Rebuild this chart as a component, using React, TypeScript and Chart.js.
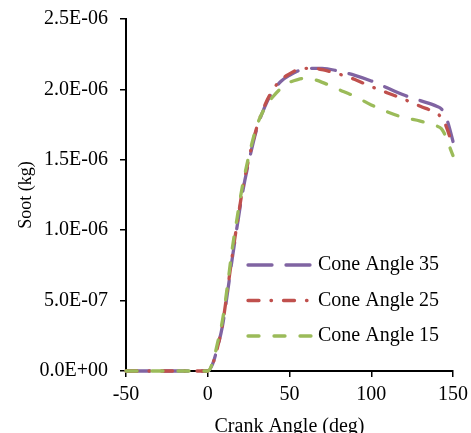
import React, { useEffect, useRef } from "react";
import { Chart, registerables } from "chart.js";

Chart.register(...registerables);

// Crank angle (deg)
const crankAngle = [-50, -25, 0, 3, 6, 9, 12, 15, 18, 21, 25, 30, 35, 40, 45, 50, 55, 60, 65, 70, 80, 90, 100, 110, 120, 130, 140, 143, 145, 147, 150];
// Soot mass, in units of 1e-6 kg
const soot35 = [0, 0, 0, 0.05, 0.17, 0.32, 0.55, 0.8, 1.03, 1.25, 1.48, 1.72, 1.88, 1.99, 2.06, 2.1, 2.13, 2.15, 2.15, 2.15, 2.13, 2.1, 2.06, 2.01, 1.96, 1.92, 1.88, 1.86, 1.82, 1.76, 1.63];
const soot25 = [0, 0, 0, 0.05, 0.17, 0.33, 0.57, 0.82, 1.05, 1.27, 1.5, 1.73, 1.89, 2.0, 2.07, 2.11, 2.14, 2.15, 2.15, 2.14, 2.11, 2.07, 2.02, 1.975, 1.93, 1.88, 1.83, 1.8, 1.76, 1.7, 1.59];
const soot15 = [0, 0, 0, 0.06, 0.2, 0.36, 0.6, 0.87, 1.09, 1.3, 1.52, 1.74, 1.87, 1.95, 2.01, 2.05, 2.07, 2.08, 2.07, 2.05, 2.0, 1.95, 1.89, 1.84, 1.8, 1.775, 1.74, 1.72, 1.68, 1.62, 1.53];

const seriesNames = ["Cone Angle 35", "Cone Angle 25", "Cone Angle 15"];
const xTitle = "Crank Angle (deg)";
const yTitle = "Soot (kg)";

const FONT = "'Liberation Serif', 'Times New Roman', serif";

const fmtSci = (v: number) => {
  if (Math.abs(v) < 1e-15) return "0.0E+00";
  const [m, e] = v.toExponential(1).split("e");
  const n = parseInt(e, 10);
  return m + "E" + (n < 0 ? "-" : "+") + String(Math.abs(n)).padStart(2, "0");
};

const toPts = (ys: number[]) => crankAngle.map((x, i) => ({ x, y: ys[i] * 1e-6 }));

export default function App() {
  const ref = useRef<HTMLCanvasElement>(null);

  useEffect(() => {
    if (!ref.current) return;
    const styles = [
      { color: "#8064A2", dash: [24, 14] },
      { color: "#C0504D", dash: [11, 12, 0.5, 12] },
      { color: "#9BBB59", dash: [11, 15] },
    ];
    const legendPlugin = {
      id: "inlineLegend",
      afterDraw(chart: any) {
        const ctx = chart.ctx;
        ctx.save();
        styles.forEach((s, i) => {
          const y = 265 + i * 35.5;
          ctx.beginPath();
          ctx.setLineDash(s.dash);
          ctx.lineCap = "round";
          ctx.lineWidth = 3.3;
          ctx.strokeStyle = s.color;
          ctx.moveTo(248, y);
          ctx.lineTo(312, y);
          ctx.stroke();
          ctx.setLineDash([]);
          ctx.fillStyle = "#000";
          ctx.font = `20px ${FONT}`;
          ctx.textBaseline = "middle";
          ctx.textAlign = "left";
          ctx.fillText(seriesNames[i], 318, y);
        });
        ctx.restore();
      },
    };
    const seriesData = [soot35, soot25, soot15];
    const chart = new Chart(ref.current, {
      type: "line",
      data: {
        datasets: seriesData.map((d, i) => ({
          label: seriesNames[i],
          data: toPts(d),
          borderColor: styles[i].color,
          backgroundColor: styles[i].color,
          borderWidth: 3.3,
          borderDash: styles[i].dash,
          borderCapStyle: "round",
          pointRadius: 0,
          cubicInterpolationMode: "monotone",
          fill: false,
          clip: false,
          order: 2 - i,
        })) as any,
      },
      options: {
        responsive: false,
        animation: false,
        layout: { padding: { top: 19, right: 18, left: 0, bottom: 0 } },
        plugins: { legend: { display: false }, tooltip: { enabled: false } },
        scales: {
          x: {
            type: "linear",
            min: -50,
            max: 150,
            ticks: { stepSize: 50, color: "#000", font: { family: FONT, size: 20 }, padding: 6 },
            grid: { drawOnChartArea: false, drawTicks: true, tickLength: 6, color: "#000", lineWidth: 1.5 },
            border: { color: "#000", width: 2 },
            title: {
              display: true,
              text: xTitle,
              color: "#000",
              font: { family: FONT, size: 20, lineHeight: 0.6 },
              padding: { top: 0, bottom: 0 },
            },
            afterFit: (s: any) => {
              s.height = 62;
              s.paddingRight = 0;
              s.paddingLeft = 0;
            },
          },
          y: {
            type: "linear",
            min: 0,
            max: 2.5e-6,
            ticks: {
              stepSize: 0.5e-6,
              color: "#000",
              font: { family: FONT, size: 20 },
              padding: 12,
              callback: (v: any) => fmtSci(Number(v)),
            },
            grid: { drawOnChartArea: false, drawTicks: true, tickLength: 6, color: "#000", lineWidth: 1.5 },
            border: { color: "#000", width: 2 },
            title: {
              display: true,
              text: yTitle,
              color: "#000",
              font: { family: FONT, size: 18 },
              padding: { top: 15, bottom: 0 },
            },
            afterFit: (s: any) => {
              s.width = 126;
              s.paddingTop = 0;
              s.paddingBottom = 0;
            },
          },
        },
      } as any,
      plugins: [legendPlugin],
    });
    return () => chart.destroy();
  }, []);

  return (
    <div style={{ position: "fixed", left: 0, top: 0, width: 471, height: 433, background: "#fff" }}>
      <canvas ref={ref} width={471} height={433} style={{ display: "block" }} />
    </div>
  );
}
